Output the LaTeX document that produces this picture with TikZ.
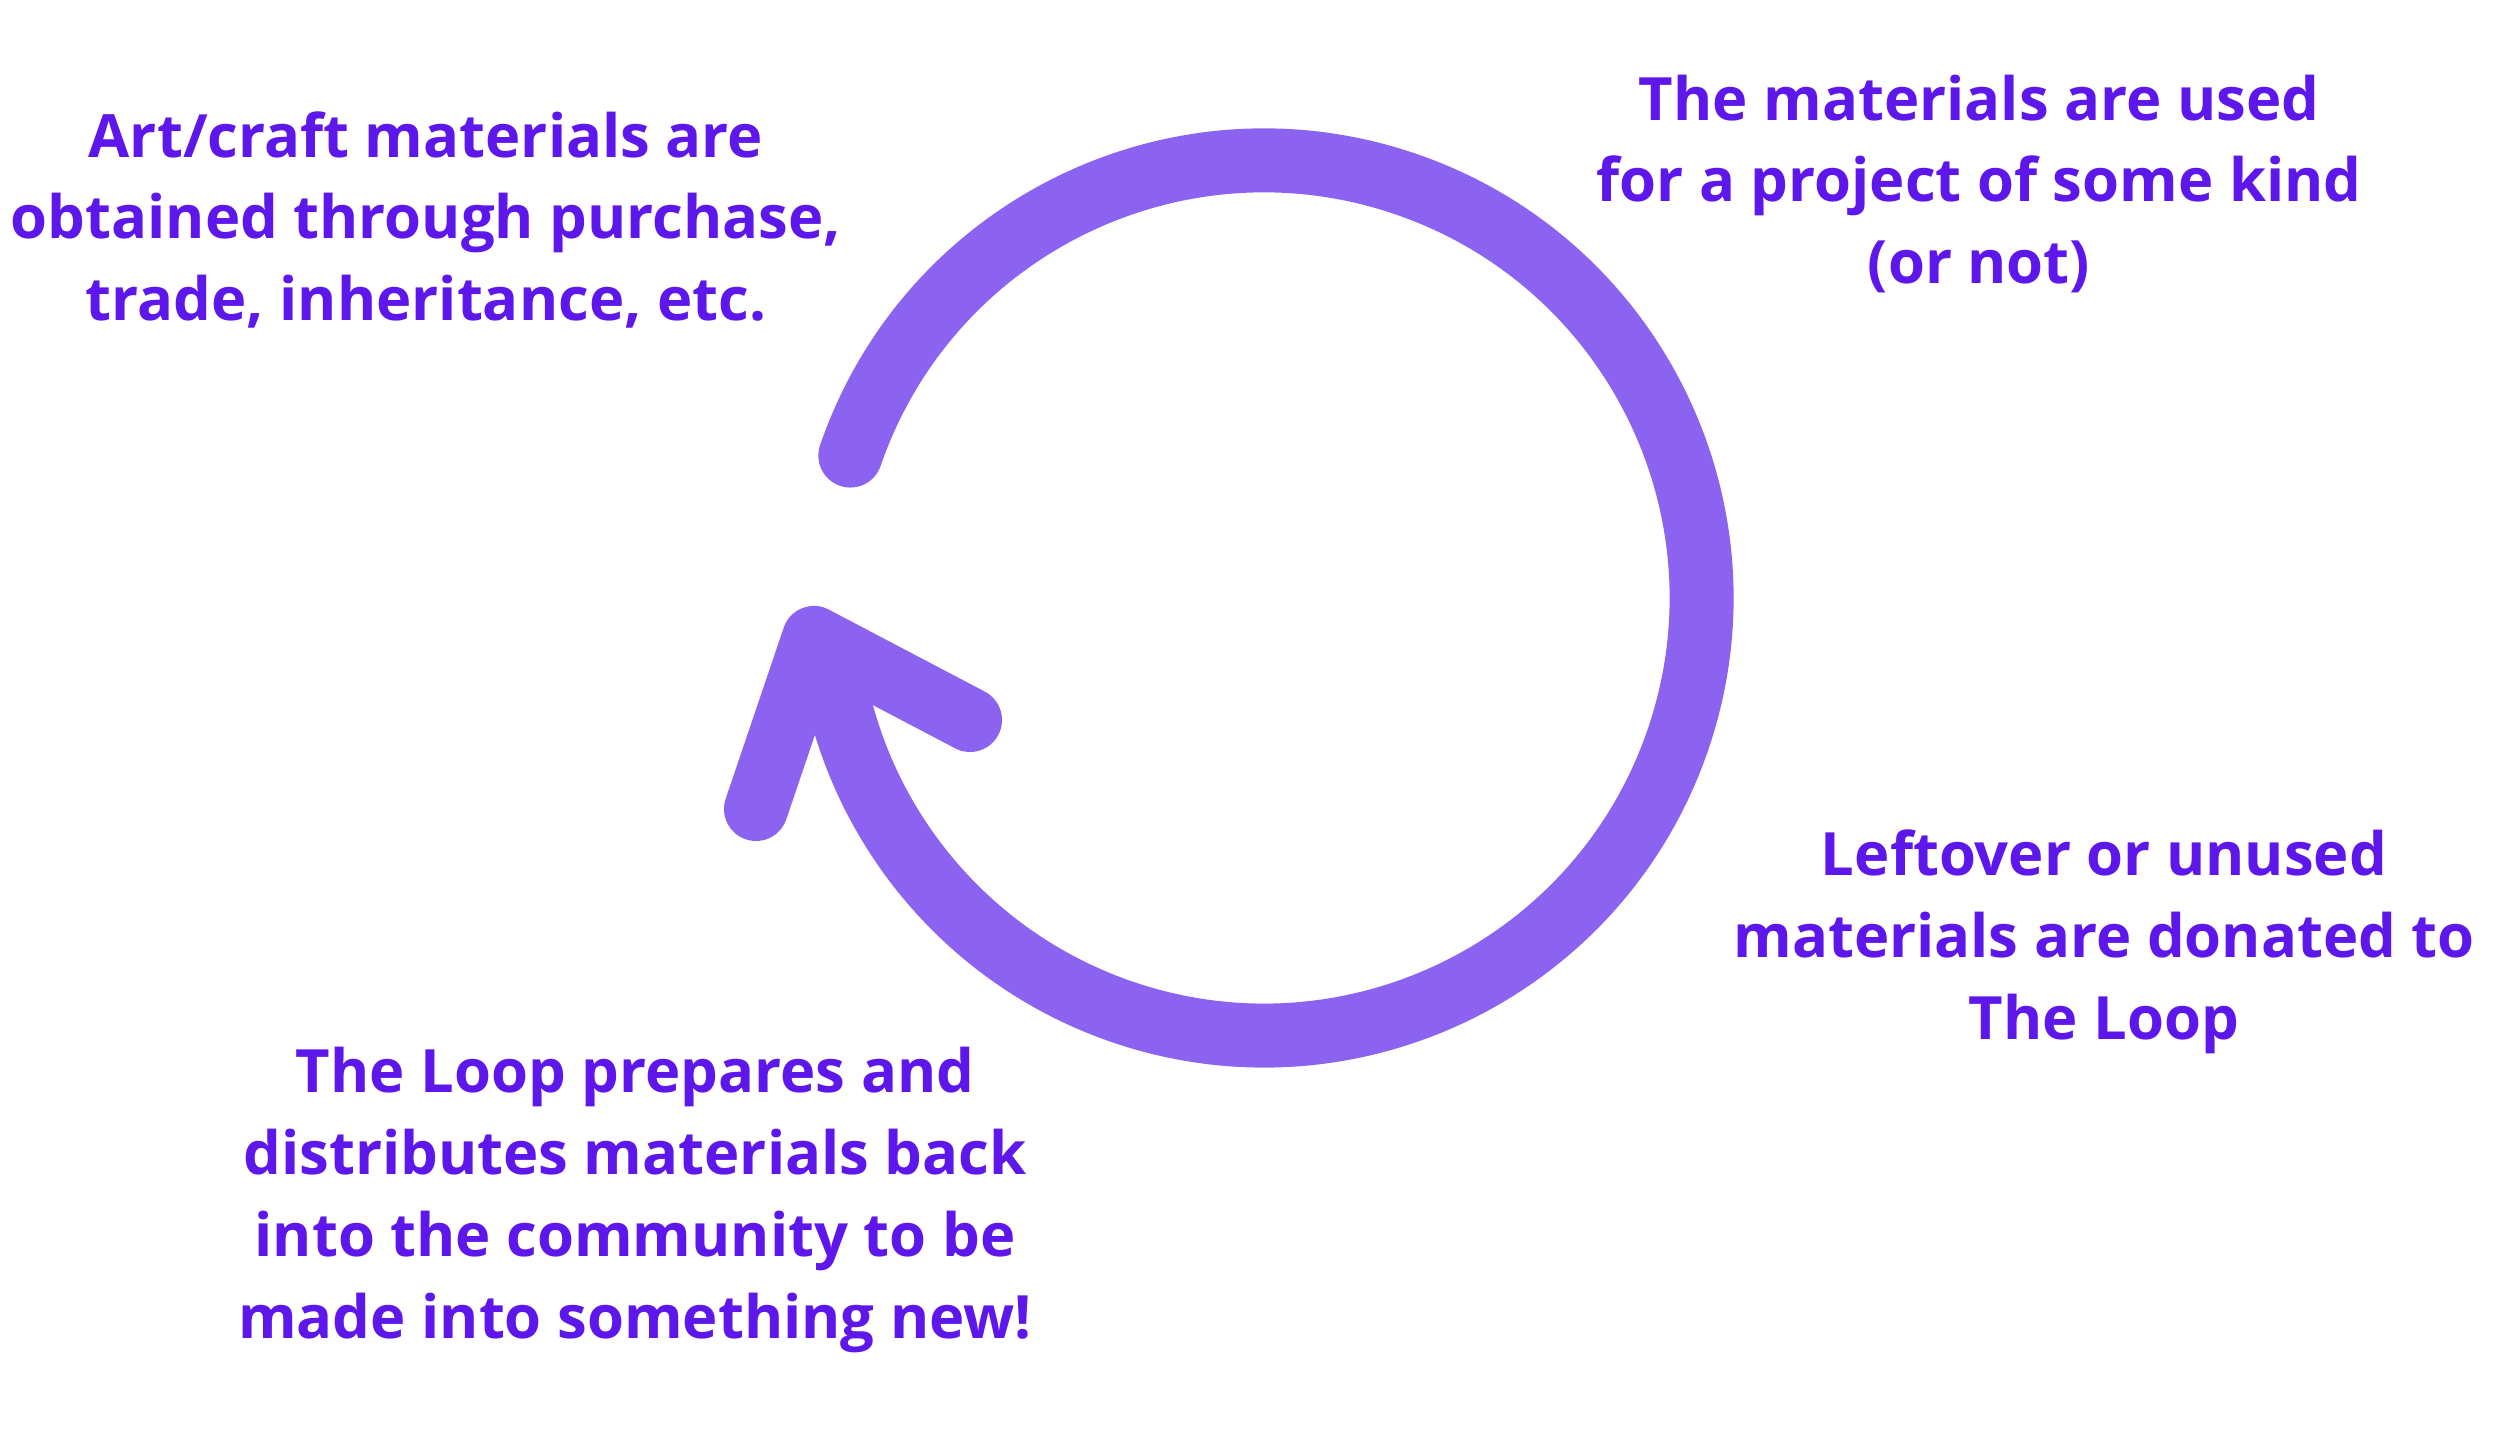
\documentclass[tikz,border=0pt]{standalone}
\usepackage{fontspec}
\setmainfont{Open Sans}
\definecolor{txt}{HTML}{5E17EB}
\definecolor{ring}{HTML}{8C63F0}
\begin{document}
\begin{tikzpicture}
\useasboundingbox (0,0) rectangle (25,14.47);
\tikzset{lbl/.style={text=txt,font=\fontsize{17}{23.3}\selectfont\bfseries,align=center},
ringline/.style={draw=ring,line width=0.64cm,line cap=round,line join=round}}
\coordinate (c) at (12.64,8.49);
\draw[ringline] ([shift={(161:4.375)}]c) arc[start angle=161,end angle=-166,radius=4.375];
\coordinate (tip) at (8.14,8.09);
\coordinate (a1) at (7.56,6.38);
\coordinate (a2) at (9.70,7.27);
\draw[ringline] (a1) -- (tip) -- (a2);
\node[lbl] (t1) at (4.26,12.27) {Art/craft materials are\\obtained through purchase,\\trade, inheritance, etc.};
\node[lbl] (t2) at (19.79,12.63) {The materials are used\\for a project of some kind\\(or not)};
\node[lbl] (t3) at (21.04,5.05) {Leftover or unused\\materials are donated to\\The Loop};
\node[lbl] (t4) at (6.35,2.47) {The Loop prepares and\\distributes materials back\\into the community to be\\made into something new!};
\end{tikzpicture}
\end{document}
